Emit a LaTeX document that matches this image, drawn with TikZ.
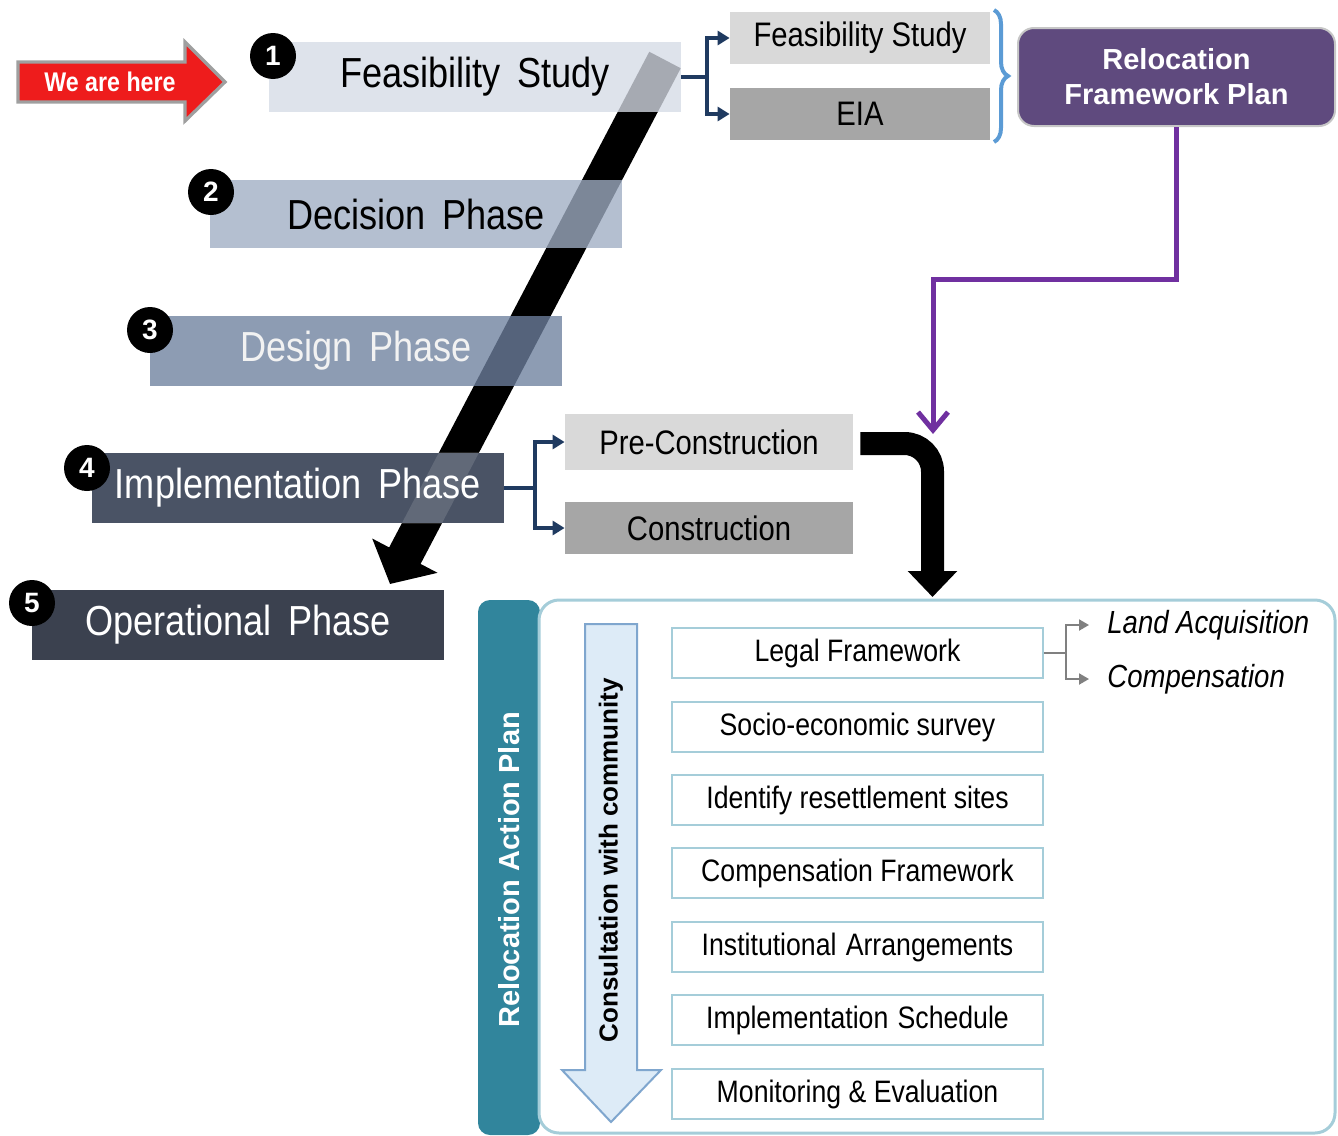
\documentclass[tikz,border=0pt]{standalone}
\usepackage{fontspec}
\setmainfont{Liberation Sans}
\newfontfamily\narrow{Liberation Sans}[FakeStretch=0.86]
\usetikzlibrary{arrows.meta,decorations.pathreplacing,calc}

\definecolor{phA}{HTML}{D5DBE5}
\definecolor{phB}{HTML}{9FADC3}
\definecolor{phC}{HTML}{6D809E}
\definecolor{phD}{HTML}{4A5365}
\definecolor{phE}{HTML}{3B414F}
\definecolor{navy}{HTML}{1F3A60}
\definecolor{lightbox}{HTML}{D9D9D9}
\definecolor{midbox}{HTML}{A6A6A6}
\definecolor{braceblue}{HTML}{5B9BD5}
\definecolor{rfpfill}{HTML}{5F4A7E}
\definecolor{purpleline}{HTML}{7030A0}
\definecolor{rapteal}{HTML}{31859C}
\definecolor{panelline}{HTML}{A5CDD9}
\definecolor{consfill}{HTML}{DDEBF7}
\definecolor{consline}{HTML}{7FA6CE}
\definecolor{herered}{HTML}{EE1C1C}

\tikzset{
  phase/.style={rectangle, minimum width=206pt, minimum height=35pt, inner sep=0pt,
    font=\narrow\fontsize{21}{25}\selectfont},
  seethrough/.style={fill opacity=0.78, text opacity=1},
  num/.style={circle, fill=black, text=white, minimum size=23pt, inner sep=0pt,
    font=\bfseries\fontsize{14}{16}\selectfont},
  subbox/.style={rectangle, minimum width=130pt, minimum height=26pt, inner sep=0pt,
    font=\narrow\fontsize{17}{20}\selectfont},
  taskbox/.style={rectangle, draw=panelline, line width=0.9pt, fill=white,
    minimum width=185.5pt, minimum height=25pt, inner sep=0pt,
    font=\narrow\fontsize{15.5}{18}\selectfont},
  link/.style={draw=navy, line width=2pt, -{Triangle[length=6pt,width=7pt]}},
  greyline/.style={draw=gray, line width=1pt},
  greylink/.style={greyline, -{Triangle[length=5pt,width=5.5pt]}},
  purpleflow/.style={draw=purpleline, line width=2.5pt,
    -{Straight Barb[length=9pt,width=15pt,line width=2.5pt]}},
  bigflow/.style={draw=black, line width=11.5pt, rounded corners=14pt,
    -{Triangle[length=13pt,width=24pt]}},
  sidenote/.style={anchor=west, inner sep=0pt, font=\narrow\itshape\fontsize{16}{19}\selectfont}
}

\begin{document}
\begin{tikzpicture}[x=0.5pt,y=-0.5pt]
\useasboundingbox (0,0) rectangle (1338,1135);

% ---- "We are here" marker
\draw[fill=herered, draw=gray!75, line width=1.6pt, line join=miter]
  (18,62) -- (185,62) -- (185,42) -- (225,82) -- (185,121) -- (185,102) -- (18,102) -- cycle;
\node[text=white, font=\narrow\bfseries\fontsize{13.5}{16}\selectfont] (here) at (110,82) {We are here};

% ---- diagonal progress arrow (drawn beneath the phase boxes)
\coordinate (dtop) at (665,60);
\coordinate (dtip) at (390,584);
\draw[line width=17.75pt, black, -{Triangle[length=16pt,width=36pt]}] (dtop) -- (dtip);

% ---- project phases
\node[phase, seethrough, fill=phA, text=black] (p1) at (475,77) {Feasibility\hspace{0.4em}Study};
\node[phase, seethrough, fill=phB, text=black, minimum height=34pt] (p2) at (416,214) {Decision\hspace{0.4em}Phase};
\node[phase, seethrough, fill=phC, text=white!95!black] (p3) at (356,351) {Design\hspace{0.4em}Phase};
\node[phase, fill=phD, text=white] (p4) at (298,488) {Implementation\hspace{0.4em}Phase};
\begin{scope}
  \clip (p4.south west) rectangle (p4.north east);
  \draw[line width=17.75pt, white, opacity=0.13] (dtop) -- (dtip);
\end{scope}
\node[phase, fill=phE, text=white] (p5) at (238,625) {Operational\hspace{0.4em}Phase};

\node[num] (n1) at (273,56) {1};
\node[num] (n2) at (211,192) {2};
\node[num] (n3) at (150,330) {3};
\node[num] (n4) at (87,468) {4};
\node[num] (n5) at (32,603) {5};

% ---- feasibility study outputs
\node[subbox, fill=lightbox] (fsub) at (860,38) {Feasibility Study};
\node[subbox, fill=midbox] (eia) at (860,114) {EIA};
\draw[link] (p1.east) -- ++(26,0) |- (fsub.west);
\draw[link] (p1.east) -- ++(26,0) |- (eia.west);
\draw[draw=braceblue, line width=2pt, decorate, decoration={brace, amplitude=7pt}]
  (994,10) -- (994,142);

\node[rectangle, rounded corners=8pt, fill=rfpfill, draw=gray!45, line width=1pt,
      minimum width=158.5pt, minimum height=49pt, text=white, align=center,
      font=\bfseries\fontsize{14.5}{17.5}\selectfont] (rfp) at (1176.5,77)
  {Relocation\\Framework Plan};

\coordinate (pend) at (933,434);
\draw[purpleflow] (rfp.south) -- ++(0,152) -| (pend);

% ---- implementation outputs
\node[subbox, fill=lightbox, minimum width=144pt, minimum height=28pt] (pc) at (709,442) {Pre-Construction};
\node[subbox, fill=midbox, minimum width=144pt] (cons) at (709,528) {Construction};
\draw[link] (p4.east) -- ++(31,0) |- (pc.west);
\draw[link] (p4.east) -- ++(31,0) |- (cons.west);

\coordinate (bendend) at (932.5,597);
\draw[bigflow] ([xshift=3.5pt,yshift=-0.75pt]pc.east) -| (bendend);

% ---- relocation action plan panel
\node[rectangle, rounded corners=6pt, fill=rapteal, minimum width=31pt, minimum height=267.5pt,
      inner sep=0pt] (rapbar) at (509,867.5) {};
\node[rectangle, rounded corners=10pt, draw=panelline, line width=1.5pt, fill=white,
      minimum width=398pt, minimum height=266.5pt, inner sep=0pt] (panel) at (937,866.5) {};
\node[rotate=90, text=white, font=\bfseries\fontsize{14.5}{17}\selectfont] (raptext)
  at (509,870) {Relocation Action Plan};

% consultation runs alongside every task
\draw[fill=consfill, draw=consline, line width=1pt, line join=miter]
  (585,624) -- (637,624) -- (637,1070) -- (661,1070) -- (611,1122) -- (562,1070) -- (585,1070) -- cycle;
\node[rotate=90, font=\bfseries\fontsize{13}{15}\selectfont] (consult) at (611,860)
  {Consultation with community};

\node[taskbox] (t1) at (857.5,653) {Legal Framework};
\node[taskbox] (t2) at (857.5,727) {Socio-economic survey};
\node[taskbox] (t3) at (857.5,800) {Identify resettlement sites};
\node[taskbox] (t4) at (857.5,873) {Compensation Framework};
\node[taskbox] (t5) at (857.5,947) {Institutional\hspace{0.3em}Arrangements};
\node[taskbox] (t6) at (857.5,1020) {Implementation\hspace{0.3em}Schedule};
\node[taskbox] (t7) at (857.5,1094) {Monitoring \& Evaluation};

\node[sidenote] (land) at (1107,625) {Land Acquisition};
\node[sidenote] (comp) at (1107,679) {Compensation};
\draw[greyline] (t1.east) -- ++(22,0) coordinate (lj);
\draw[greylink] (lj) |- ([xshift=-9pt]land.west);
\draw[greylink] (lj) |- ([xshift=-9pt]comp.west);
\end{tikzpicture}
\end{document}
